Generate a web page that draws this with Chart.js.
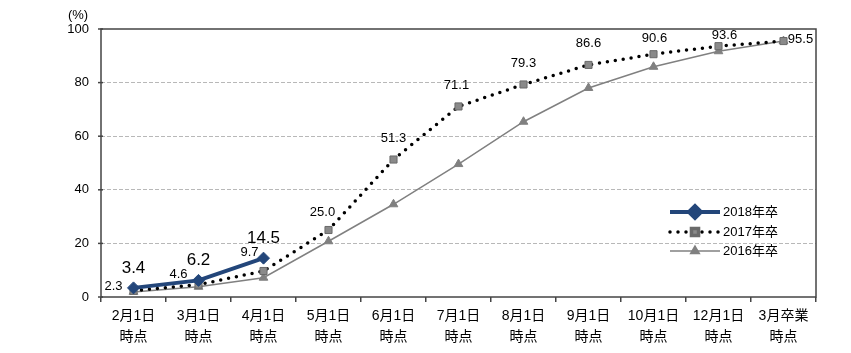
<!DOCTYPE html>
<html>
<head>
<meta charset="utf-8">
<script src="https://cdn.jsdelivr.net/npm/chart.js@4.4.1/dist/chart.umd.min.js"></script>
<style>
  body { margin: 0; background: #fff; }
  #wrap { width: 851px; height: 353px; }
</style>
</head>
<body>
<div id="wrap"><canvas id="myChart" width="851" height="353"></canvas></div>
<script>
const categories = [
    ['2月1日', '時点'], ['3月1日', '時点'], ['4月1日', '時点'], ['5月1日', '時点'],
    ['6月1日', '時点'], ['7月1日', '時点'], ['8月1日', '時点'], ['9月1日', '時点'],
    ['10月1日', '時点'], ['12月1日', '時点'], ['3月卒業', '時点']
];
const yTicks = [0, 20, 40, 60, 80, 100];
const grad2018 = [3.4, 6.2, 14.5, null, null, null, null, null, null, null, null];
const grad2017 = [2.3, 4.6, 9.7, 25.0, 51.3, 71.1, 79.3, 86.6, 90.6, 93.6, 95.5];
const grad2016 = [1.9, 3.8, 7.2, 20.8, 34.6, 49.6, 65.4, 78.0, 85.9, 91.7, 95.5];

const FONT = "'Liberation Sans', 'Noto Sans CJK JP', sans-serif";

// ラベル位置の微調整 (点からのずれ)
const offs2017 = [[-20, -4], [-20, -10], [-14, -19], [-6, -18], [0, -21], [-2, -21],
                  [0, -21], [0, -21], [1, -16], [6, -11], [17, -2]];

const labelPlugin = {
    id: 'pointLabels',
    afterDatasetsDraw(chart) {
        const ctx = chart.ctx;
        ctx.save();
        ctx.textAlign = 'center';
        ctx.textBaseline = 'middle';
        ctx.fillStyle = '#000';
        // 2018
        ctx.font = '17px ' + FONT;
        chart.getDatasetMeta(0).data.forEach((p, i) => {
            if (grad2018[i] == null) return;
            ctx.fillText(grad2018[i].toFixed(1), p.x, p.y - 20);
        });
        // 2017
        ctx.font = '13px ' + FONT;
        chart.getDatasetMeta(1).data.forEach((p, i) => {
            const o = offs2017[i];
            ctx.fillText(grad2017[i].toFixed(1), p.x + o[0], p.y + o[1]);
        });
        ctx.restore();
    }
};

const framePlugin = {
    id: 'frame',
    beforeDatasetsDraw(chart) {
        const { ctx, chartArea: a } = chart;
        ctx.save();
        ctx.strokeStyle = '#444';
        ctx.lineWidth = 1.5;
        ctx.strokeRect(a.left, a.top, a.right - a.left, a.bottom - a.top);
        // y軸の目盛り
        const y = chart.scales.y;
        yTicks.forEach(v => {
            const py = y.getPixelForValue(v);
            ctx.beginPath();
            ctx.moveTo(a.left - 3, py);
            ctx.lineTo(a.left + 2, py);
            ctx.stroke();
        });
        ctx.fillStyle = '#000';
        ctx.font = '13px ' + FONT;
        ctx.textAlign = 'center';
        ctx.textBaseline = 'middle';
        ctx.fillText('(%)', 78, 15);
        ctx.restore();
    }
};

const legendPlugin = {
    id: 'insideLegend',
    afterDraw(chart) {
        const ctx = chart.ctx;
        const x0 = 670, x1 = 720, ys = [212, 232, 251];
        ctx.save();
        chart.data.datasets.forEach((ds, i) => {
            const y = ys[i];
            ctx.strokeStyle = ds.borderColor;
            ctx.lineWidth = ds.borderWidth;
            ctx.lineCap = ds.borderCapStyle || 'butt';
            ctx.setLineDash(ds.borderDash || []);
            ctx.beginPath();
            ctx.moveTo(x0, y);
            ctx.lineTo(x1, y);
            ctx.stroke();
            ctx.setLineDash([]);
            ctx.fillStyle = ds.pointBackgroundColor;
            ctx.strokeStyle = ds.pointBorderColor;
            Chart.helpers.drawPoint(ctx, {
                pointStyle: ds.pointStyle, radius: ds.pointRadius,
                rotation: 0, borderWidth: ds.pointBorderWidth
            }, (x0 + x1) / 2, y);
            ctx.fillStyle = '#000';
            ctx.font = '13px ' + FONT;
            ctx.textAlign = 'left';
            ctx.textBaseline = 'middle';
            ctx.fillText(ds.label, x1 + 3, y);
        });
        ctx.restore();
    }
};

new Chart(document.getElementById('myChart').getContext('2d'), {
    type: 'line',
    data: {
        labels: categories,
        datasets: [{
            label: '2018年卒',
            data: grad2018,
            borderColor: '#23467a',
            borderWidth: 4,
            pointStyle: 'rectRot',
            pointRadius: 6,
            pointBackgroundColor: '#23467a',
            pointBorderColor: '#23467a',
            pointBorderWidth: 1,
            spanGaps: false
        }, {
            label: '2017年卒',
            data: grad2017,
            borderColor: '#000',
            borderWidth: 3.5,
            borderDash: [0, 8],
            borderCapStyle: 'round',
            pointStyle: 'rect',
            pointRadius: 5,
            pointBackgroundColor: '#8a8a8a',
            pointBorderColor: '#6a6a6a',
            pointBorderWidth: 1
        }, {
            label: '2016年卒',
            data: grad2016,
            borderColor: '#808080',
            borderWidth: 1.5,
            pointStyle: 'triangle',
            pointRadius: 5,
            pointBackgroundColor: '#808080',
            pointBorderColor: '#808080',
            pointBorderWidth: 1
        }]
    },
    options: {
        responsive: false,
        animation: false,
        layout: { padding: { top: 29, right: 35, left: 0, bottom: 0 } },
        plugins: { legend: { display: false }, tooltip: { enabled: false } },
        scales: {
            x: {
                offset: true,
                grid: { offset: true, drawOnChartArea: false, drawTicks: true, tickLength: 5, color: '#444', lineWidth: 1.5 },
                border: { display: false },
                ticks: { color: '#000', font: { family: FONT, size: 14, lineHeight: 1.55 }, padding: 3, maxRotation: 0, autoSkip: false },
                afterFit: s => { s.height = 56; }
            },
            y: {
                min: 0,
                max: 100,
                afterBuildTicks: s => { s.ticks = yTicks.map(v => ({ value: v })); },
                grid: {
                    drawTicks: false,
                    color: c => (c.tick.value === 0 || c.tick.value === 100) ? 'rgba(0,0,0,0)' : '#b8b8b8',
                    lineWidth: 1
                },
                border: { display: false, dash: [4, 2] },
                ticks: { color: '#000', font: { family: FONT, size: 13 }, padding: 12 },
                afterFit: s => { s.width = 101; }
            }
        }
    },
    plugins: [framePlugin, labelPlugin, legendPlugin]
});
</script>
</body>
</html>
